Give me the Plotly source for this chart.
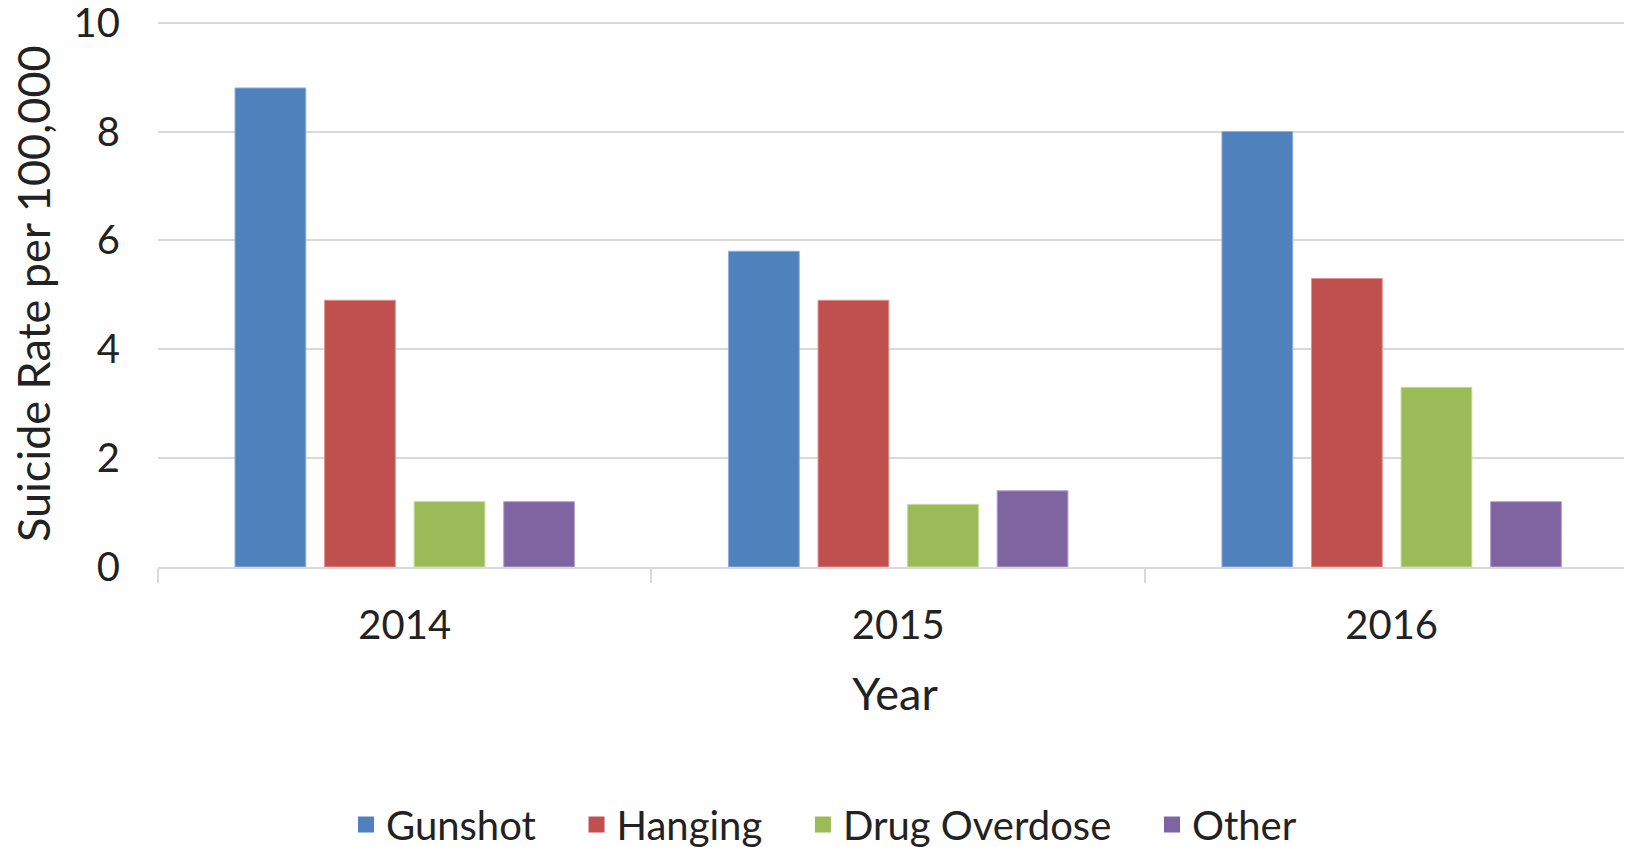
import plotly.graph_objects as go

# Anos (categorias do eixo x)
years = ["2014", "2015", "2016"]

# Taxas por método (por 100.000)
gunshot = [8.8, 5.8, 8.0]
hanging = [4.9, 4.9, 5.3]
drug_overdose = [1.2, 1.15, 3.3]
other = [1.2, 1.4, 1.2]

series_names = ["Gunshot", "Hanging", "Drug Overdose", "Other"]
colors = ["#4F81BD", "#C0504D", "#9BBB59", "#8064A2"]
edge_colors = ["#8FAEDB", "#E0908E", "#C5DA9A", "#B3A2CC"]

y_title = "Suicide Rate per 100,000"
x_title = "Year"

font_family = "Lato, 'Open Sans', sans-serif"
text_color = "#222222"

fig = go.Figure()

# Barras agrupadas
for name, vals, col, edge in zip(series_names, [gunshot, hanging, drug_overdose, other], colors, edge_colors):
    fig.add_trace(go.Bar(
        x=years,
        y=vals,
        name=name,
        legendgroup=name,
        showlegend=False,
        marker=dict(color=col, line=dict(color=edge, width=1)),
    ))

# Entradas da legenda (quadrados maiores que o símbolo padrão das barras)
# espaços não separáveis no fim para afastar os itens como no original
for i, (name, col) in enumerate(zip(series_names, colors)):
    pad = "\u00a0" * 3 + "\u2009" if i < len(series_names) - 1 else ""
    fig.add_trace(go.Scatter(
        x=[None],
        y=[None],
        mode="markers",
        name=name + pad,
        legendgroup=name,
        marker=dict(symbol="square", size=16, color=col),
    ))

# Título do eixo y como anotação para poder encostá-lo à esquerda
fig.add_annotation(
    text=y_title,
    textangle=-90,
    xref="paper",
    yref="paper",
    x=0,
    y=0.5,
    xanchor="center",
    yanchor="middle",
    xshift=-125,
    showarrow=False,
    font=dict(size=45, color=text_color),
)

# a página tem 8px de margem no body, por isso as margens descontam esse deslocamento
fig.update_layout(
    width=1632,
    height=847,
    margin=dict(l=150, r=8, t=13, b=288),
    plot_bgcolor="white",
    paper_bgcolor="white",
    font=dict(family=font_family, color=text_color, size=40),
    barmode="group",
    bargap=0.274,
    bargroupgap=0.21,
    legend=dict(
        orientation="h",
        xref="container",
        yref="container",
        x=0.5,
        xanchor="center",
        y=0.036,
        yanchor="middle",
        font=dict(size=40, color=text_color),
        bgcolor="rgba(0,0,0,0)",
    ),
    xaxis=dict(
        type="category",
        range=[-0.5, 2.487],
        automargin=False,
        showgrid=False,
        showline=True,
        linecolor="#D9D9D9",
        linewidth=1.5,
        ticks="outside",
        tickson="boundaries",
        ticklen=14,
        tickwidth=1.5,
        tickcolor="#D9D9D9",
        ticklabelstandoff=22,
        tickfont=dict(size=40),
        title=dict(text=x_title, font=dict(size=45), standoff=32),
    ),
    yaxis=dict(
        range=[0, 10.03],
        tickvals=[0, 2, 4, 6, 8, 10],
        automargin=False,
        showgrid=True,
        gridcolor="#D9D9D9",
        gridwidth=1.5,
        zeroline=False,
        showline=False,
        ticks="",
        ticklabelstandoff=37,
        ticklabeloverflow="allow",
        tickfont=dict(size=40),
    ),
)

fig.write_html("out.html")
